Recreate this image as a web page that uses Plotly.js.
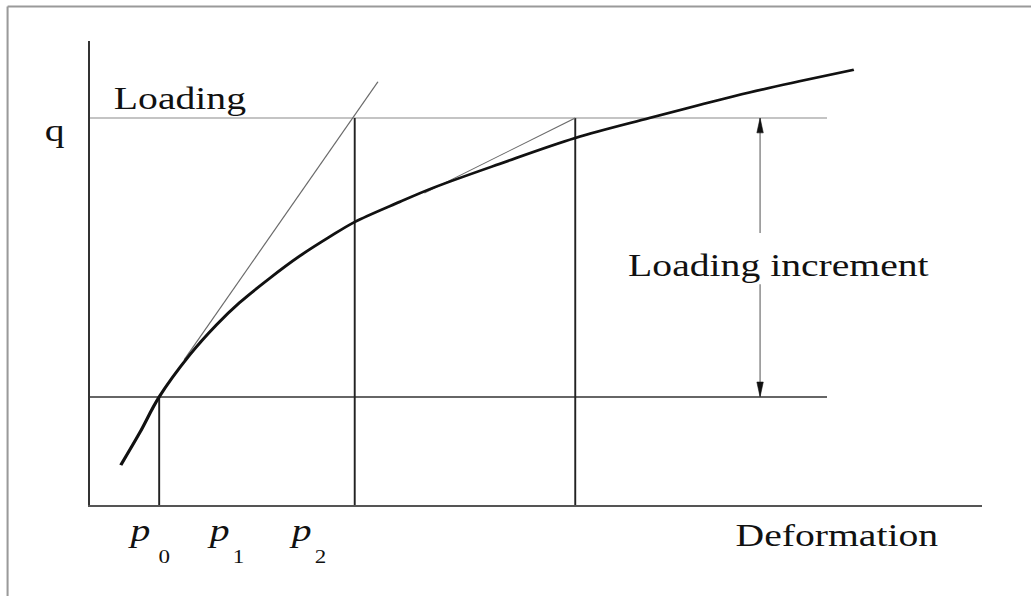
<!DOCTYPE html>
<html>
<head>
<meta charset="utf-8">
<script src="https://cdn.plot.ly/plotly-3.0.1.min.js"></script>
<style>
  html, body { margin: 0; padding: 0; background: #fff; overflow: hidden; }
  /* the figure is laid out narrow and stretched sideways to its final width */
  #chart { width: 806px; height: 596px; transform: scaleX(1.27916); transform-origin: 0 0; }
</style>
</head>
<body>
<div id="chart"></div>
<script>
// Load–deformation curve (deformation 0–100, load 0–100)
const curveX = [3.5, 5.6, 7.8, 11.2, 14.2, 16.8, 20.2, 23.5, 26.9, 29.7, 34.7, 38.4, 45.9, 54.4, 62.7, 68.3, 73.9, 79.5, 85.6];
const curveY = [8.6, 15.5, 23.3, 32.3, 38.8, 43.6, 48.9, 53.6, 57.8, 61.0, 65.3, 68.3, 73.5, 79.1, 83.4, 86.2, 88.9, 91.3, 93.8];

// Load levels: starting load p0 and target load q
const levelNames = ['p0', 'q'];
const levelY = [23.3, 83.4];

// Deformation at the starting point and at the end of each tangent step
const stepX = [7.8, 29.7, 54.4];

// Tangent lines used for the incremental steps
const tangent1X = [10.6, 32.3];
const tangent1Y = [31.3, 91.2];
const tangent2X = [37.5, 54.4];
const tangent2Y = [67.2, 83.4];

// Extent of the horizontal guide lines, and the increment arrow
const guideEndX = 82.6;
const arrowX = 75.1;
const arrowGap = [58.6, 47.6];

// Labels
const pLabels = ['p', 'p', 'p'];
const pSubs = ['0', '1', '2'];
const pLabelX = [5.6, 14.45, 23.63];
const pSubX = [8.4, 16.69, 25.81];

const serif = 'Liberation Serif, Times New Roman, serif';
const ink = '#111';

const pLoad = levelY[levelNames.indexOf('p0')];
const qLoad = levelY[levelNames.indexOf('q')];

const traces = [];

// horizontal guides
traces.push({ x: [0, guideEndX], y: [pLoad, pLoad], mode: 'lines',
  line: { color: '#333', width: 1.5 }, hoverinfo: 'skip' });
traces.push({ x: [0, guideEndX], y: [qLoad, qLoad], mode: 'lines',
  line: { color: '#8a8a8a', width: 1 }, hoverinfo: 'skip' });

// vertical drop lines
const vx = [], vy = [];
stepX.forEach((s, i) => {
  vx.push(s, s, null);
  vy.push(0, i === 0 ? pLoad : qLoad, null);
});
traces.push({ x: vx, y: vy, mode: 'lines', line: { color: '#222', width: 1.5 }, hoverinfo: 'skip' });

// tangents
traces.push({ x: tangent1X, y: tangent1Y, mode: 'lines', line: { color: '#6a6a6a', width: 1 }, hoverinfo: 'skip' });
traces.push({ x: tangent2X, y: tangent2Y, mode: 'lines', line: { color: '#6a6a6a', width: 1 }, hoverinfo: 'skip' });

// curve
traces.push({ x: curveX, y: curveY, mode: 'lines',
  line: { color: ink, width: 2.6, shape: 'spline', smoothing: 1 }, hoverinfo: 'skip' });

// increment arrow (line split around its label)
traces.push({ x: [arrowX, arrowX, null, arrowX, arrowX],
  y: [qLoad, arrowGap[0], null, arrowGap[1], pLoad], mode: 'lines',
  line: { color: '#777', width: 1 }, hoverinfo: 'skip' });

// arrow heads: narrow filled triangles at both ends
const headLen = 3.2, headHalf = 0.36;
traces.push({ x: [arrowX, arrowX - headHalf, arrowX + headHalf, arrowX],
  y: [qLoad, qLoad - headLen, qLoad - headLen, qLoad], mode: 'lines',
  fill: 'toself', fillcolor: '#111', line: { color: '#111', width: 0.5 }, hoverinfo: 'skip' });
traces.push({ x: [arrowX, arrowX - headHalf, arrowX + headHalf, arrowX],
  y: [pLoad, pLoad + headLen, pLoad + headLen, pLoad], mode: 'lines',
  fill: 'toself', fillcolor: '#111', line: { color: '#111', width: 0.5 }, hoverinfo: 'skip' });

const annotations = [
  { text: 'Loading', xref: 'x', yref: 'y', x: 2.4, y: 87.6, xanchor: 'left', yanchor: 'middle',
    showarrow: false, font: { family: serif, size: 31, color: ink } },
  { text: 'q', xref: 'paper', yref: 'paper', x: -0.038, y: 0.808, xanchor: 'center', yanchor: 'middle',
    showarrow: false, font: { family: serif, size: 31, color: ink } },
  { text: 'Loading increment', xref: 'x', yref: 'y', x: 77.1, y: 51.6, xanchor: 'center', yanchor: 'middle',
    showarrow: false, font: { family: serif, size: 31, color: ink } },
  { text: 'Deformation', xref: 'x', yref: 'paper', x: 83.7, y: -0.0657, xanchor: 'center', yanchor: 'middle',
    showarrow: false, font: { family: serif, size: 31, color: ink } }
];
pLabels.forEach((t, i) => {
  annotations.push({ text: t, xref: 'x', yref: 'paper', x: pLabelX[i], y: -0.055,
    xanchor: 'center', yanchor: 'middle', showarrow: false,
    font: { family: serif, size: 31, style: 'italic', color: ink } });
  annotations.push({ text: pSubs[i], xref: 'x', yref: 'paper', x: pSubX[i], y: -0.112,
    xanchor: 'center', yanchor: 'middle', showarrow: false,
    font: { family: serif, size: 18, color: ink } });
});

// page frame along the top and left edges
const shapes = [
  { type: 'line', xref: 'paper', yref: 'paper', x0: -0.0918, x1: 1.06, y0: 1.0744, y1: 1.0744,
    line: { color: '#9a9a9a', width: 2 } },
  { type: 'line', xref: 'paper', yref: 'paper', x0: -0.0918, x1: -0.0918, y0: 1.0744, y1: -0.21,
    line: { color: '#9a9a9a', width: 1.6 } }
];

const axisCommon = { showgrid: false, zeroline: false, showticklabels: false, ticks: '',
  showline: true, fixedrange: true };

const layout = {
  width: 806, height: 596,
  margin: { l: 70.36, r: 37.53, t: 41, b: 91, pad: 0 },
  paper_bgcolor: '#fff', plot_bgcolor: '#fff',
  showlegend: false,
  xaxis: Object.assign({}, axisCommon, { range: [0, 100], linecolor: '#555', linewidth: 1.5 }),
  yaxis: Object.assign({}, axisCommon, { range: [0, 100], linecolor: '#333', linewidth: 1.5 }),
  annotations: annotations,
  shapes: shapes
};

Plotly.newPlot('chart', traces, layout, { displayModeBar: false, staticPlot: true });
</script>
</body>
</html>
